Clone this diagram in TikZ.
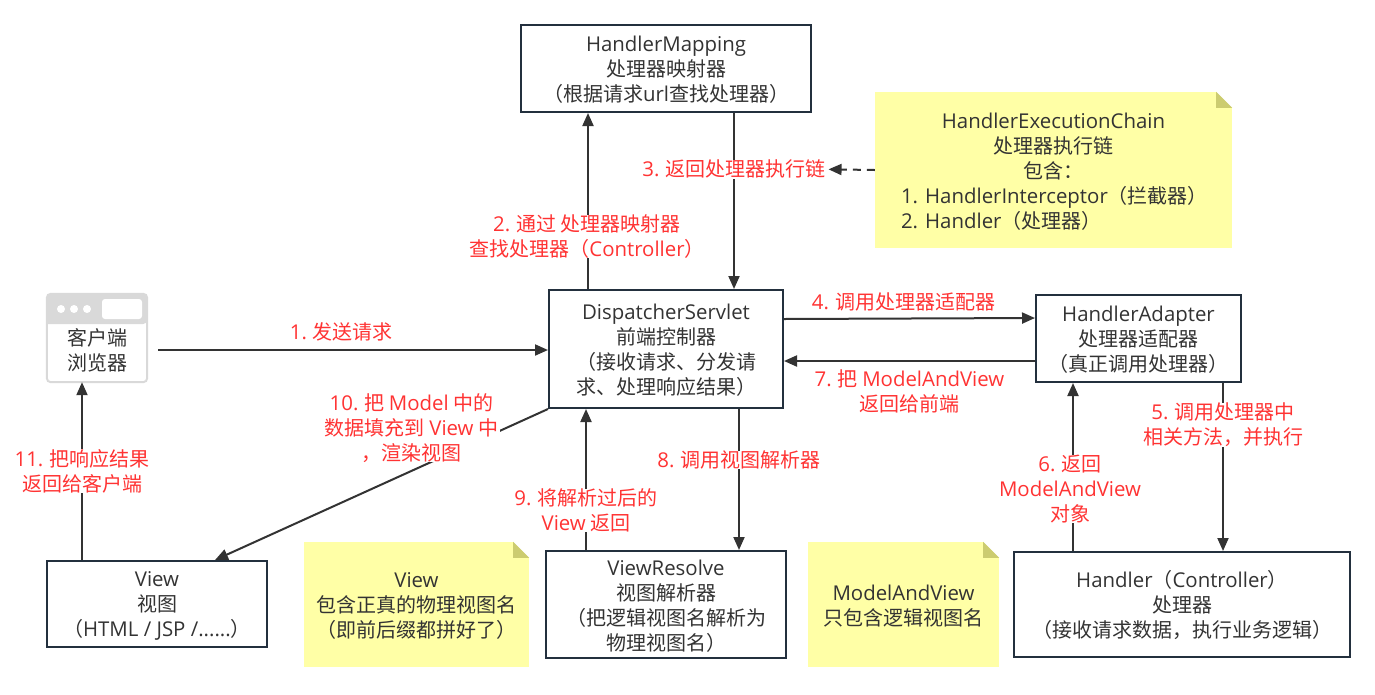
\documentclass[tikz,border=0pt]{standalone}
\usepackage{fontspec}
\setmainfont{Noto Sans CJK SC}
\newfontfamily\latfont{Open Sans}[Scale=1.02]
\newcommand\lat[1]{{\latfont #1}}
\newcommand\topstrut{\rule{0pt}{18pt}}
\usetikzlibrary{arrows.meta,calc}
\definecolor{inkgray}{HTML}{333333}
\definecolor{boxline}{HTML}{23303E}
\definecolor{redtext}{HTML}{FF3333}
\definecolor{notefill}{HTML}{FFFFA6}
\definecolor{foldfill}{HTML}{CCCC70}
\definecolor{clientgray}{HTML}{D9D9D9}
\tikzset{
  txt/.style={text=inkgray,inner sep=0pt,align=center,font=\fontsize{20}{25}\selectfont},
  mvcbox/.style={txt,draw=boxline,line width=2pt,fill=white},
  notebox/.style={txt,fill=notefill},
  lbl/.style={txt,text=redtext,fill=white,inner xsep=2pt},
  lblclear/.style={lbl,fill=none},
  conn/.style={draw=inkgray,line width=2pt,-{Triangle[length=13pt,width=11pt]}}
}
\begin{document}
\begin{tikzpicture}[x=1pt,y=-1pt]
  \useasboundingbox (0,0) rectangle (1375,694);

  \node[mvcbox,minimum width=290pt,minimum height=87pt] (map) at (666,68.5) {\topstrut\lat{HandlerMapping}\\处理器映射器\\（根据请求\lat{url}查找处理器）};
  \node[mvcbox,minimum width=234pt,minimum height=118pt] (disp) at (666,349) {\topstrut\lat{DispatcherServlet}\\前端控制器\\（接收请求、分发请\\求、处理响应结果）};
  \node[mvcbox,minimum width=205pt,minimum height=87pt] (adapter) at (1138.5,338.5) {\topstrut\lat{HandlerAdapter}\\处理器适配器\\（真正调用处理器）};
  \node[mvcbox,minimum width=336pt,minimum height=105pt] (handler) at (1182,604.5) {\topstrut\lat{Handler}（\lat{Controller}）\\处理器\\（接收请求数据，执行业务逻辑）};
  \node[mvcbox,minimum width=240pt,minimum height=107pt] (resolve) at (666,604.5) {\topstrut\lat{ViewResolve}\\视图解析器\\（把逻辑视图名解析为\\物理视图名）};
  \node[mvcbox,minimum width=220pt,minimum height=86pt] (view) at (157,604) {\topstrut\lat{View}\\视图\\（\lat{HTML / JSP /......}）};

  \node[notebox,minimum width=357pt,minimum height=156pt] (chain) at (1053.5,170) {\topstrut\lat{HandlerExecutionChain}\\处理器执行链\\包含：\\\makebox[305pt][l]{\lat{1. HandlerInterceptor}（拦截器）}\\\makebox[305pt][l]{\lat{2. Handler}（处理器）}};
  \node[notebox,minimum width=225pt,minimum height=125pt] (viewnote) at (416.5,604.5) {\topstrut\lat{View}\\包含正真的物理视图名\\（即前后缀都拼好了）};
  \node[notebox,minimum width=191pt,minimum height=125pt] (mavnote) at (903.5,604.5) {\topstrut\lat{ModelAndView}\\只包含逻辑视图名};
  \foreach \n in {chain,viewnote,mavnote} {
    \fill[white] ([xshift=-16pt]\n.north east) -- (\n.north east) -- ([yshift=-16pt]\n.north east) -- cycle;
    \fill[foldfill] ([xshift=-16pt]\n.north east) -- ([yshift=-16pt]\n.north east) -- ([xshift=-16pt,yshift=-16pt]\n.north east) -- cycle;
  }

  \node[minimum width=100pt,minimum height=88pt,inner sep=0pt] (client) at (97,338) {};
  \draw[clientgray,line width=2pt,rounded corners=4pt] (client.north west) rectangle (client.south east);
  \fill[clientgray,rounded corners=4pt] (client.west |- 0,324) -- (client.north west) -- (client.north east) -- (client.east |- 0,324) [sharp corners] -- cycle;
  \foreach \i in {0,1,2} \fill[white] (61+13*\i,309) circle (4pt);
  \fill[white,rounded corners=3pt] (102,299) rectangle (142,319);
  \node[txt] (clienttext) at (97,350) {客户端\\浏览器};

  \draw[conn] ([shift={(11pt,-12pt)}]client.east) -- ([yshift=-1pt]disp.west) node[lblclear,pos=0.47,yshift=18pt] (lbl1) {\lat{1.} 发送请求};
  \draw[conn] ([xshift=-78pt]disp.north) -- ([xshift=-78pt]map.south) node[lbl,pos=0.31,xshift=-1pt,yshift=-2pt] (lbl2) {\lat{2.} 通过 处理器映射器\\查找处理器（\lat{Controller}）};
  \draw[conn] ([xshift=68pt]map.south) -- ([xshift=68pt]disp.north) node[lbl,pos=0.32] (lbl3) {\lat{3.} 返回处理器执行链};
  \draw[conn,dash pattern=on 8pt off 6pt] (chain.west) -- (lbl3.east);
  \draw[conn] ([yshift=30pt]disp.east) -- ([yshift=20.5pt]adapter.west) node[lblclear,midway,xshift=-6pt,yshift=17pt] (lbl4) {\lat{4.} 调用处理器适配器};
  \draw[conn] ([yshift=-22.5pt]adapter.west) -- ([yshift=-12pt]disp.east) node[lblclear,midway,yshift=-30pt] (lbl7) {\lat{7.} 把 \lat{ModelAndView}\\返回给前端};
  \draw[conn] ([xshift=84.5pt]adapter.south) -- ([xshift=41pt]handler.north) node[lbl,pos=0.25] (lbl5) {\lat{5.} 调用处理器中\\相关方法，并执行};
  \draw[conn] ([xshift=-109pt]handler.north) -- ([xshift=-65.5pt]adapter.south) node[lbl,pos=0.37,xshift=-3pt] (lbl6) {\lat{6.} 返回\\\lat{ModelAndView}\\对象};
  \draw[conn] ([xshift=73pt]disp.south) -- ([xshift=73pt]resolve.north) node[lbl,pos=0.36] (lbl8) {\lat{8.} 调用视图解析器};
  \draw[conn] ([xshift=-80pt]resolve.north) -- ([xshift=-80pt]disp.south) node[lbl,pos=0.28] (lbl9) {\lat{9.} 将解析过后的\\\lat{View} 返回};
  \draw[conn] (disp.south west) -- ([xshift=58pt]view.north) node[lbl,pos=0.41,yshift=43pt] (lbl10) {\lat{10.} 把 \lat{Model} 中的\\数据填充到 \lat{View} 中\\，渲染视图};
  \draw[conn] ([xshift=-75pt]view.north) -- ([xshift=-15pt]client.south) node[lbl,midway] (lbl11) {\lat{11.} 把响应结果\\返回给客户端};
\end{tikzpicture}
\end{document}
